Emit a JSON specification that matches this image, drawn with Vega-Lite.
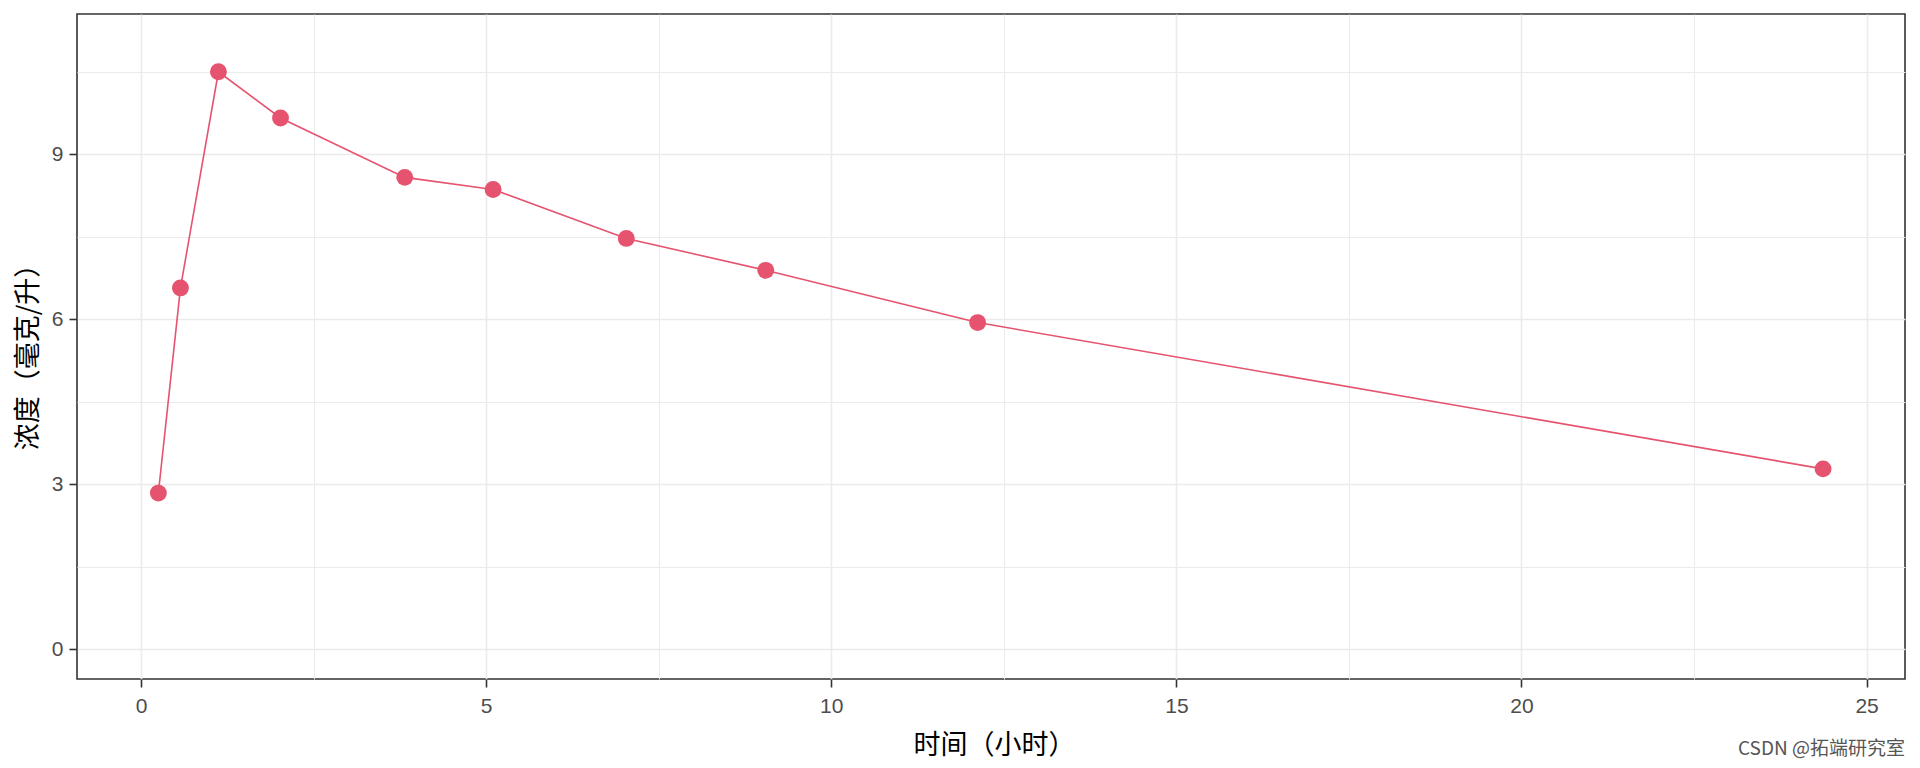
{
  "$schema": "https://vega.github.io/schema/vega-lite/v6.json",
  "autosize": {"type": "none"},
  "padding": {"left": 77, "top": 14, "right": 15, "bottom": 89},
  "width": 1828,
  "height": 665,
  "background": "white",
  "config": {
    "view": {"stroke": "#333333", "strokeWidth": 1.6},
    "axis": {
      "labelFont": "Liberation Sans",
      "labelFontSize": 21,
      "labelColor": "#4D4D4D",
      "titleFont": "Noto Sans CJK SC",
      "titleFontWeight": "normal",
      "titleFontSize": 27,
      "titleColor": "#000000",
      "tickColor": "#333333",
      "tickWidth": 1.6,
      "tickSize": 8,
      "domain": false,
      "gridColor": "#EBEBEB",
      "gridWidth": 1.6
    }
  },
  "title": {
    "text": "CSDN @拓端研究室",
    "orient": "bottom",
    "anchor": "end",
    "font": "Noto Sans CJK SC",
    "fontSize": 19,
    "fontWeight": "normal",
    "color": "#555555",
    "offset": -18
  },
  "data": {
    "values": [
      {"time": 0.25, "conc": 2.84},
      {"time": 0.57, "conc": 6.57},
      {"time": 1.12, "conc": 10.50},
      {"time": 2.02, "conc": 9.66},
      {"time": 3.82, "conc": 8.58},
      {"time": 5.10, "conc": 8.36},
      {"time": 7.03, "conc": 7.47},
      {"time": 9.05, "conc": 6.89},
      {"time": 12.12, "conc": 5.94},
      {"time": 24.37, "conc": 3.28}
    ]
  },
  "layer": [
    {
      "mark": {"type": "point", "opacity": 0},
      "encoding": {
        "x": {"field": "time", "type": "quantitative",
          "scale": {"domain": [-0.929, 25.557], "nice": false, "zero": false},
          "axis": {"orient": "top", "values": [2.5, 7.5, 12.5, 17.5, 22.5], "labels": false, "ticks": false, "title": null, "grid": true, "gridWidth": 1}},
        "y": {"field": "conc", "type": "quantitative",
          "scale": {"domain": [-0.54, 11.55], "nice": false, "zero": false},
          "axis": {"orient": "right", "values": [1.5, 4.5, 7.5, 10.5], "labels": false, "ticks": false, "title": null, "grid": true, "gridWidth": 1}}
      }
    },
    {
      "mark": {"type": "line", "color": "#E5536F", "strokeWidth": 1.6},
      "encoding": {
        "x": {"field": "time", "type": "quantitative",
          "scale": {"domain": [-0.929, 25.557], "nice": false, "zero": false},
          "axis": {"orient": "bottom", "values": [0, 5, 10, 15, 20, 25], "grid": true, "title": "时间（小时）", "labelPadding": 8, "titleY": 66, "titleBaseline": "middle", "titleX": 917}},
        "y": {"field": "conc", "type": "quantitative",
          "scale": {"domain": [-0.54, 11.55], "nice": false, "zero": false},
          "axis": {"orient": "left", "values": [0, 3, 6, 9], "grid": true, "title": "浓度（毫克/升）", "labelPadding": 6, "titleX": -49, "titleY": 336, "titleBaseline": "middle", "titleAngle": -90}}
      }
    },
    {
      "mark": {"type": "circle", "color": "#E5536F", "opacity": 1, "size": 285},
      "encoding": {
        "x": {"field": "time", "type": "quantitative", "axis": null},
        "y": {"field": "conc", "type": "quantitative", "axis": null}
      }
    }
  ],
  "resolve": {"axis": {"x": "independent", "y": "independent"}}
}
